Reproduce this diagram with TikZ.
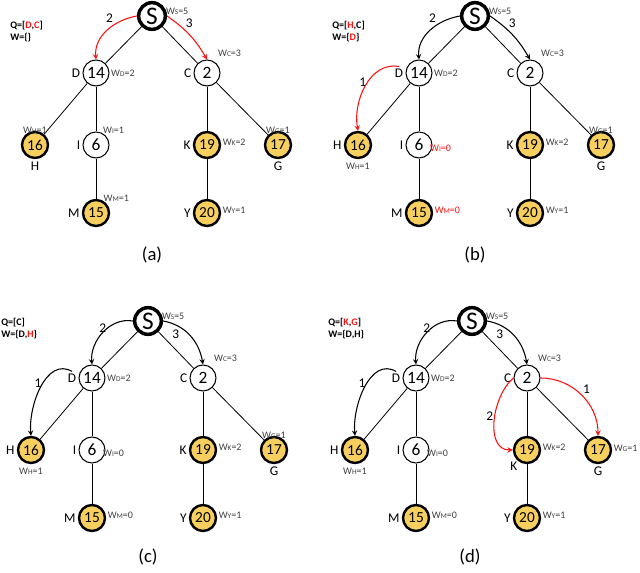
\documentclass[tikz,border=0pt]{standalone}
\usepackage{fontspec}
\setmainfont{Carlito}
\definecolor{gold}{HTML}{F6CF5F}
\definecolor{rd}{HTML}{FF1010}
\newcommand\wsub[2]{W{\fontsize{5.5}{5.5}\selectfont #1}=#2}
\newcommand\basetree[3]{%
\begin{scope}[shift={(#2,#3)}]
\node[sn] (#1S) at (152,16) {S};
\node[nd] (#1D) at (96,73) {14};
\node[nd] (#1C) at (207,73) {2};
\node[gd] (#1H) at (35,145) {16};
\node[nd] (#1I) at (96,145) {6};
\node[gd] (#1K) at (207,145) {19};
\node[gd] (#1G) at (278,145) {17};
\node[gd] (#1M) at (96,213) {15};
\node[gd] (#1Y) at (207,213) {20};
\draw[ed] (#1S) -- (#1D);
\draw[ed] (#1S) -- (#1C);
\draw[ed] (#1D) -- (#1H);
\draw[ed] (#1D) -- (#1I);
\draw[ed] (#1I) -- (#1M);
\draw[ed] (#1C) -- (#1K);
\draw[ed] (#1C) -- (#1G);
\draw[ed] (#1K) -- (#1Y);
\node[lb,anchor=east] (#1lD) at (#1D.west) {D};
\node[lb,anchor=east] (#1lC) at (#1C.west) {C};
\node[lb,anchor=east] (#1lI) at (#1I.west) {I};
\node[lb,anchor=east] (#1lM) at (#1M.west) {M};
\node[lb,anchor=east] (#1lY) at (#1Y.west) {Y};
\node[wl,anchor=south west] (#1wS) at ([xshift=-2]#1S.east) {\wsub{S}{5}};
\node[wl,anchor=west] (#1wD) at (#1D.east) {\wsub{D}{2}};
\node[wl,anchor=south west] (#1wC) at ([yshift=4]#1C.north east) {\wsub{C}{3}};
\node[wl,anchor=west] (#1wK) at ([yshift=2]#1K.east) {\wsub{K}{2}};
\node[wl,anchor=west] (#1wY) at ([yshift=2]#1Y.east) {\wsub{Y}{1}};
\node[lb,anchor=north] (#1lG) at (#1G.south) {G};
\end{scope}}
\begin{document}
\begin{tikzpicture}[x=0.75pt,y=-0.75pt,
 nd/.style={circle,draw,line width=0.8pt,fill=white,minimum size=19.5pt,inner sep=0pt,font=\fontsize{13}{13}\selectfont},
 gd/.style={nd,fill=gold,line width=1.8pt,font=\fontsize{11.5}{11.5}\selectfont},
 sn/.style={circle,draw,line width=2.6pt,fill=white,minimum size=20pt,inner sep=0pt,font=\fontsize{19}{19}\selectfont},
 lb/.style={font=\fontsize{10}{10}\selectfont,inner sep=1.5pt},
 wl/.style={font=\fontsize{7.5}{7.5}\selectfont,inner sep=1pt,text=black!75},
 qt/.style={font=\bfseries\fontsize{7.5}{9}\selectfont,inner sep=0pt,anchor=north west,align=left},
 ed/.style={line width=0.6pt},
 ar/.style={->,>=stealth,line width=0.8pt},
 el/.style={font=\fontsize{10}{10}\selectfont,inner sep=1pt},
 pcap/.style={font=\fontsize{14}{14}\selectfont}
]
\useasboundingbox (0,0) rectangle (640,573);
% ---------- (a)
\basetree{a}{0}{0}
\node[qt] (aq) at (10,21) {Q=[{\color{rd}D},{\color{rd}C}]\\W=\{\}};
\node[lb,anchor=north] (alH) at (aH.south) {H};
\node[wl,anchor=south] (awH) at ([yshift=-3]aH.north) {\wsub{H}{1}};
\node[wl,anchor=south west] (awI) at ([xshift=-3]aI.north east) {\wsub{I}{1}};
\node[wl,anchor=south] (awG) at ([yshift=-3]aG.north) {\wsub{G}{1}};
\node[wl,anchor=south west] (awM) at ([xshift=-3]aM.north east) {\wsub{M}{1}};
\node[lb,anchor=east] (alK) at (aK.west) {K};
\draw[ar,rd] (aS.west) to[out=190,in=95] node[el,pos=0.35,above left,text=black] {2} (aD.north);
\draw[ar,rd] (aS.east) to[out=-35,in=120] node[el,pos=0.35,above right,text=black] {3} (aC.north);
\node[pcap] (acap) at (152,255) {(a)};
% ---------- (b)
\basetree{b}{323}{0}
\node[qt] (bq) at (332,21) {Q=[{\color{rd}H},C]\\W=\{{\color{rd}D}\}};
\node[lb,anchor=east] (blH) at (bH.west) {H};
\node[wl,anchor=north] (bwH) at ([yshift=-2]bH.south) {\wsub{H}{1}};
\node[wl,anchor=south west,text=rd] (bwI) at ([xshift=-3,yshift=-6]bI.east) {\wsub{I}{0}};
\node[wl,anchor=south] (bwG) at ([yshift=-3]bG.north) {\wsub{G}{1}};
\node[wl,anchor=west,text=rd] (bwM) at ([yshift=2]bM.east) {\wsub{M}{0}};
\node[lb,anchor=east] (blK) at (bK.west) {K};
\draw[ar] (bS.west) to[out=190,in=95] node[el,pos=0.35,above left] {2} (bD.north);
\draw[ar] (bS.east) to[out=-35,in=120] node[el,pos=0.35,above right] {3} (bC.north);
\draw[ar,rd] (blD.north) to[out=170,in=100] node[el,pos=0.45,left,text=black] {1} (bH.north);
\node[pcap] (bcap) at (475,255) {(b)};
% ---------- (c)
\basetree{c}{-4}{305}
\node[qt] (cq) at (1,318) {Q=[C]\\W=\{D,{\color{rd}H}\}};
\node[lb,anchor=east] (clH) at (cH.west) {H};
\node[wl,anchor=north] (cwH) at ([yshift=-2]cH.south) {\wsub{H}{1}};
\node[wl,anchor=south west] (cwI) at ([xshift=-3,yshift=-6]cI.east) {\wsub{I}{0}};
\node[wl,anchor=south] (cwG) at ([yshift=-3]cG.north) {\wsub{G}{1}};
\node[wl,anchor=west] (cwM) at ([yshift=2]cM.east) {\wsub{M}{0}};
\node[lb,anchor=east] (clK) at (cK.west) {K};
\draw[ar] (cS.west) to[out=170,in=95] node[el,pos=0.4,left] {2} (cD.north);
\draw[ar] (cS.east) to[out=-10,in=100] node[el,pos=0.3,below left] {3} (cC.north);
\draw[ar] (clD.north) to[out=150,in=95] node[el,pos=0.45,left] {1} (cH.north);
\node[pcap] (ccap) at (148,557) {(c)};
% ---------- (d)
\basetree{d}{320}{305}
\node[qt] (dq) at (328,318) {Q=[{\color{rd}K},{\color{rd}G}]\\W=\{D,H\}};
\node[lb,anchor=east] (dlH) at (dH.west) {H};
\node[wl,anchor=north] (dwH) at ([yshift=-2]dH.south) {\wsub{H}{1}};
\node[wl,anchor=south west] (dwI) at ([xshift=-3,yshift=-6]dI.east) {\wsub{I}{0}};
\node[wl,anchor=south west] (dwG) at ([yshift=-2]dG.east) {\wsub{G}{1}};
\node[wl,anchor=west] (dwM) at ([yshift=2]dM.east) {\wsub{M}{0}};
\node[lb,anchor=north east] (dlK) at ([xshift=2]dK.south west) {K};
\draw[ar] (dS.west) to[out=170,in=95] node[el,pos=0.4,left] {2} (dD.north);
\draw[ar] (dS.east) to[out=-10,in=100] node[el,pos=0.3,below left] {3} (dC.north);
\draw[ar] (dlD.north) to[out=150,in=95] node[el,pos=0.45,left] {1} (dH.north);
\draw[ar,rd] (dC.west) to[out=220,in=180] node[el,pos=0.45,left,text=black] {2} (dK.west);
\draw[ar,rd] (dC.east) to[out=0,in=90] node[el,pos=0.5,above right,text=black] {1} (dG.north);
\node[pcap] (dcap) at (470,557) {(d)};
\end{tikzpicture}
\end{document}
